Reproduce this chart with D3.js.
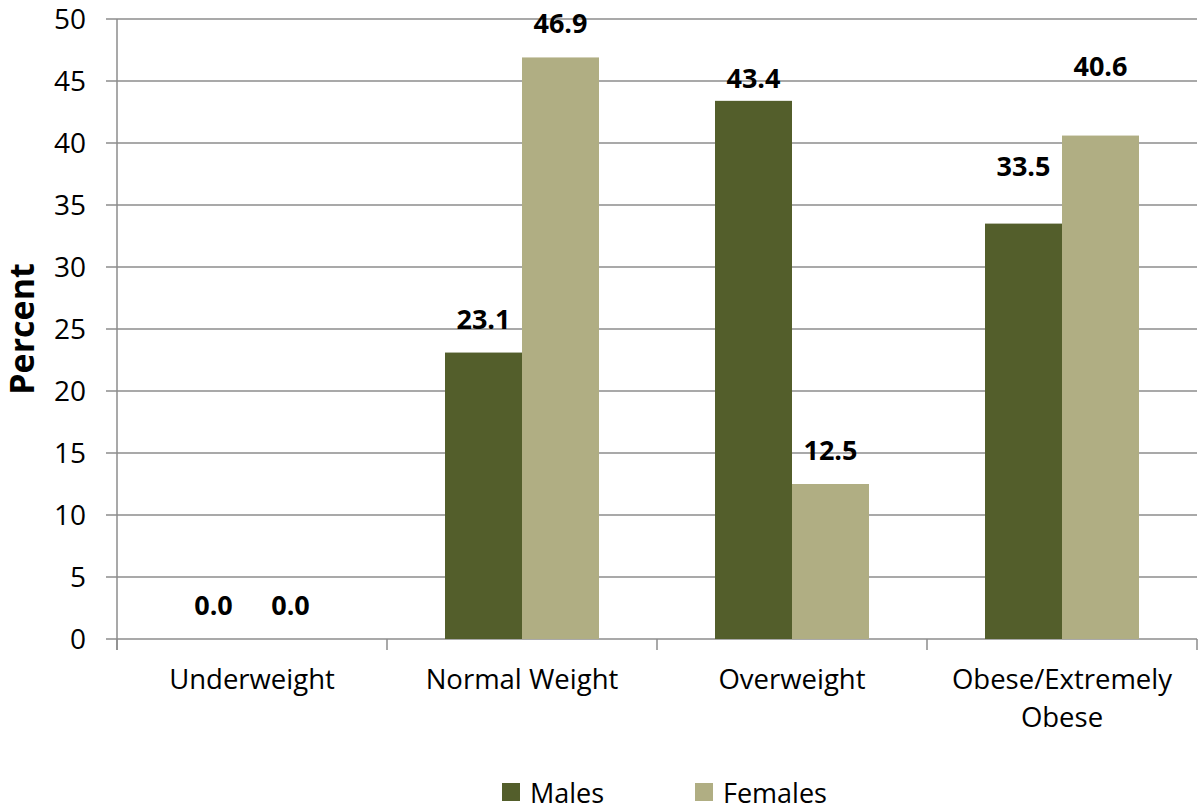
<!DOCTYPE html>
<html>
<head>
<meta charset="utf-8">
<script src="https://cdn.jsdelivr.net/npm/d3@7"></script>
<style>
  body { margin: 0; background: #fff; }
  svg text { font-family: "Open Sans", "Noto Sans", sans-serif; fill: #000; }
</style>
</head>
<body>
<div id="chart"></div>
<script>
var categories = ["Underweight", "Normal Weight", "Overweight", "Obese/Extremely Obese"],
    series = ["Males", "Females"],
    males = [0.0, 23.1, 43.4, 33.5],
    females = [0.0, 46.9, 12.5, 40.6],
    yTicks = [0, 5, 10, 15, 20, 25, 30, 35, 40, 45, 50];

// extra lift (px) of some value labels, as placed in the original
var labelLift = { Males: [0, 0, -11, 24], Females: [0, 0, 0, 36] };

var colorMap = ["#535E2B", "#B0AE83"];
var color = d3.scaleOrdinal().domain(series).range(colorMap);

var svg_dx = 1201, svg_dy = 807,
    plotLeft = 117, plotRight = 1197, plotTop = 19, plotBottom = 639;

var svg = d3.select("#chart").append("svg")
    .attr("width", svg_dx)
    .attr("height", svg_dy);

var x0 = d3.scaleBand().domain(categories).range([plotLeft, plotRight]);
var x1 = d3.scaleBand().domain(series).range([58, 212]);
var y = d3.scaleLinear().domain([0, 50]).range([plotBottom, plotTop]);

// gridlines
svg.append("g")
   .selectAll("line")
   .data(yTicks)
   .enter()
   .append("line")
   .attr("x1", plotLeft - 11)
   .attr("x2", plotRight)
   .attr("y1", d => y(d))
   .attr("y2", d => y(d))
   .style("stroke", "#8c8c8c")
   .style("stroke-width", 1.5);

// y tick labels
svg.append("g")
   .selectAll("text")
   .data(yTicks)
   .enter()
   .append("text")
   .attr("x", 86)
   .attr("y", d => y(d) + 10)
   .attr("text-anchor", "end")
   .style("font-size", "28px")
   .text(d => d);

// y axis line
svg.append("line")
   .attr("x1", plotLeft).attr("x2", plotLeft)
   .attr("y1", plotTop).attr("y2", plotBottom + 11)
   .style("stroke", "#8c8c8c")
   .style("stroke-width", 1.5);

// x category ticks
svg.append("g")
   .selectAll("line")
   .data(categories.concat(["end"]))
   .enter()
   .append("line")
   .attr("x1", (d, i) => plotLeft + i * x0.bandwidth())
   .attr("x2", (d, i) => plotLeft + i * x0.bandwidth())
   .attr("y1", plotBottom)
   .attr("y2", plotBottom + 11)
   .style("stroke", "#8c8c8c")
   .style("stroke-width", 1.5);

// bars
var rows = categories.map((c, i) => ({ cat: c, i: i, vals: [
    { s: "Males", v: males[i] },
    { s: "Females", v: females[i] }
]}));

var groups = svg.append("g")
   .selectAll("g")
   .data(rows)
   .enter()
   .append("g")
   .attr("transform", d => "translate(" + x0(d.cat) + ",0)");

groups.selectAll("rect")
   .data(d => d.vals)
   .enter()
   .append("rect")
   .attr("x", d => x1(d.s))
   .attr("width", x1.bandwidth())
   .attr("y", d => y(d.v))
   .attr("height", d => y(0) - y(d.v))
   .style("fill", d => color(d.s));

groups.selectAll("text")
   .data(d => d.vals.map(v => Object.assign({ i: d.i }, v)))
   .enter()
   .append("text")
   .attr("x", d => x1(d.s) + x1.bandwidth() / 2)
   .attr("y", d => y(d.v) - 24 - labelLift[d.s][d.i])
   .attr("text-anchor", "middle")
   .style("font-size", "27px")
   .style("font-weight", "bold")
   .text(d => d.v.toFixed(1));

// category labels (wrapped)
var catLines = { "Obese/Extremely Obese": ["Obese/Extremely", "Obese"] };
svg.append("g")
   .selectAll("text")
   .data(categories)
   .enter()
   .append("text")
   .attr("text-anchor", "middle")
   .style("font-size", "27.5px")
   .each(function (d) {
       var lines = catLines[d] || [d];
       var t = d3.select(this);
       lines.forEach((ln, k) => {
           t.append("tspan")
            .attr("x", x0(d) + x0.bandwidth() / 2)
            .attr("y", 689 + k * 38)
            .text(ln);
       });
   });

// y axis title
svg.append("text")
   .attr("transform", "translate(34," + ((plotTop + plotBottom) / 2) + ") rotate(-90)")
   .attr("text-anchor", "middle")
   .style("font-size", "34px")
   .style("font-weight", "bold")
   .text("Percent");

// legend
var legendX = [502, 695];
var legend = svg.append("g")
   .selectAll("g")
   .data(series)
   .enter()
   .append("g")
   .attr("transform", (d, i) => "translate(" + legendX[i] + ",783)");

legend.append("rect")
   .attr("width", 18)
   .attr("height", 18)
   .style("fill", d => color(d));

legend.append("text")
   .attr("x", 28)
   .attr("y", 20)
   .style("font-size", "27px")
   .text(d => d);
</script>
</body>
</html>
